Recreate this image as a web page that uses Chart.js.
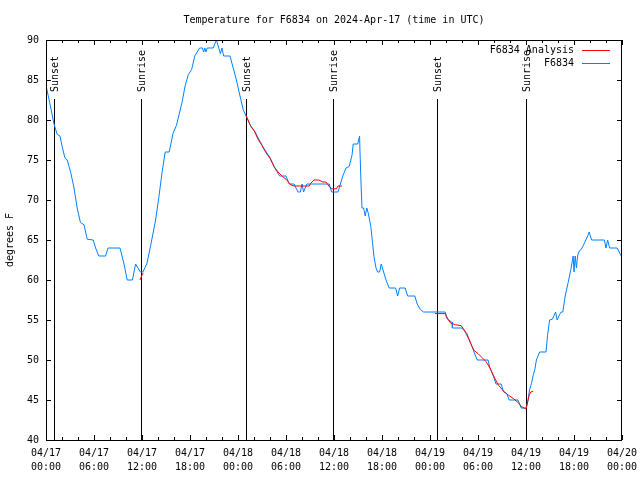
<!DOCTYPE html>
<html>
<head>
<meta charset="utf-8">
<script src="https://cdn.jsdelivr.net/npm/chart.js"></script>
<style>
  body { margin: 0; background: #fff; }
  canvas { display: block; }
</style>
</head>
<body>
<canvas id="tempChart" width="640" height="480"></canvas>
<script>
// hours since 04/17 00:00 UTC
const obsHours = [0, 0.5, 1.0, 1.4, 1.75, 1.95, 2.35, 2.65, 3.1, 3.5, 3.9, 4.3, 4.75, 5.15, 5.9, 6.2, 6.6, 7.45, 7.75, 9.25,
    9.75, 10.15, 10.8, 11.2, 11.8, 12.1, 12.6, 13.1, 13.7, 14.1, 14.5, 14.9, 15.4, 15.9, 16.3, 17.0, 17.4, 17.8, 18.2, 18.6,
    19.2, 19.55, 19.7, 19.85, 20.0, 20.15, 20.9, 21.3, 21.6, 21.8, 22.0, 22.2, 23.0, 23.4, 23.8, 24.25, 24.65, 25.1, 25.7, 26.1,
    26.5, 27.2, 28.0, 28.6, 29.2, 30.0, 30.4, 31.0, 31.5, 31.8, 32.0, 32.2, 32.6, 35.4, 35.7, 36.5, 36.8, 37.1, 37.5, 37.9,
    38.25, 38.4, 38.96, 39.2, 39.25, 39.4, 39.5, 39.7, 39.9, 40.1, 40.3, 40.6, 40.8, 41.0, 41.25, 41.45, 41.7, 41.9, 42.2, 42.5,
    42.9, 43.7, 43.96, 44.2, 44.9, 45.2, 46.1, 46.4, 46.8, 47.2, 49.9, 50.1, 50.75, 50.8, 52.0, 52.4, 52.8, 53.25, 53.5, 53.9,
    55.25, 55.5, 55.95, 56.25, 56.9, 57.2, 57.6, 57.9, 59.0, 59.4, 60.05, 60.25, 60.45, 60.7, 60.9, 61.1, 61.3, 61.7, 62.5, 62.7,
    62.95, 63.3, 63.7, 63.9, 64.2, 64.4, 64.6, 64.9, 65.25, 65.6, 65.9, 66.0, 66.15, 66.3, 66.45, 66.6, 67.0, 67.3, 67.75, 67.9,
    68.2, 69.8, 70.0, 70.2, 70.45, 71.4, 71.9, 72];
const obsTemps = [84.3, 82, 79.5, 78.2, 78, 77, 75.3, 75, 73.4, 71.5, 69, 67.2, 66.9, 65.1, 65, 64, 63, 63, 64, 64,
    62, 60, 60, 62, 61, 61, 62, 64.4, 67.5, 70.3, 73.4, 76, 76, 78.4, 79.3, 82.2, 84.3, 85.7, 86.3, 88,
    89, 89, 88.5, 89, 88.5, 89, 89, 90, 89, 88.3, 89, 88, 88, 86.5, 85, 83, 81.3, 80.3, 79, 78.6,
    77.8, 76.5, 75.3, 74, 73, 73, 72, 72, 71, 71, 72, 71, 72, 72, 71, 71, 72, 73, 74, 74.2,
    75.6, 77, 77, 78, 76, 71.5, 69, 69, 68, 69, 68.3, 66.7, 64.8, 62.9, 61.5, 61, 61, 62, 61, 60,
    59, 59, 58, 59, 59, 58, 58, 57, 56.3, 56, 56, 55.2, 54.7, 54, 54, 53.5, 52.7, 51.7, 51, 50,
    50, 49, 47.9, 47, 47, 46, 45.8, 45, 45, 44, 44, 45, 46.3, 47.1, 48.1, 48.8, 50, 51, 51, 53.1,
    55, 55.1, 56, 55, 55.7, 56, 56, 58, 59.6, 61.3, 63, 61, 63, 61.5, 63, 63.5, 64, 64.6, 65.6, 66,
    65, 65, 64, 65, 64, 64, 63, 63];

// analysis fit, null breaks the line
const fitHours = [11.75, 11.95, 12.15, 12.2,
    25.0, 25.5, 26.0, 26.5, 27.0, 27.5, 28.0, 28.5, 29.0, 29.6, 30.0, 30.6, 31.0, 32.0, 32.9, 33.1, 33.5, 34.1, 34.6, 35.0,
    35.4, 35.7, 36.3, 36.5, 37.0, 37.1,
    48.6, 49.9, 50.3, 50.6, 51.2, 51.9, 52.1, 52.6, 53.25, 53.5, 54.0, 54.5, 55.0, 55.5, 56.2, 56.6, 57.2, 57.8, 58.4, 59.1,
    59.4, 59.95, 60.1, 60.4, 60.6, 60.9];
const fitTemps = [60.0, 60.5, 60.9, null,
    80.6, 79.4, 78.7, 77.6, 76.8, 75.9, 75.2, 74.2, 73.5, 72.9, 72.6, 71.9, 71.75, 71.75, 71.75, 72.1, 72.5, 72.5, 72.25, 72.25,
    71.7, 71.4, 71.4, 71.75, 71.75, null,
    55.8, 55.8, 55, 54.6, 54.4, 54.3, 54, 53.3, 51.7, 51.2, 50.8, 50.3, 49.8, 49, 47.5, 46.8, 46.1, 45.6, 45.2, 44.6,
    44.2, 43.9, 44.3, 45.6, 46, 46.1];

const sunHours = [1.0, 11.9, 25.0, 35.9, 48.9, 59.95];
const sunLabels = ['Sunset', 'Sunrise', 'Sunset', 'Sunrise', 'Sunset', 'Sunrise'];

const xTickHours = [0, 6, 12, 18, 24, 30, 36, 42, 48, 54, 60, 66, 72];
const xTickLabels = [
    ['04/17', '00:00'], ['04/17', '06:00'], ['04/17', '12:00'], ['04/17', '18:00'],
    ['04/18', '00:00'], ['04/18', '06:00'], ['04/18', '12:00'], ['04/18', '18:00'],
    ['04/19', '00:00'], ['04/19', '06:00'], ['04/19', '12:00'], ['04/19', '18:00'],
    ['04/20', '00:00']
];

const MONO = '"DejaVu Sans Mono", "Liberation Mono", monospace';
const BLUE = '#0080ff';
const RED = '#ff0000';

function toPoints(xs, ys) {
    return xs.map((x, i) => ({ x: x, y: ys[i] }));
}

// frame, inward ticks, sun markers, title and legend in gnuplot style
const gnuplotBits = {
    id: 'gnuplotBits',
    beforeDatasetsDraw(chart) {
        const ctx = chart.ctx;
        const a = chart.chartArea;
        const xs = chart.scales.x;
        ctx.save();
        ctx.strokeStyle = '#000';
        ctx.lineWidth = 1;
        ctx.fillStyle = '#000';
        ctx.font = '10px ' + MONO;
        sunHours.forEach((h, i) => {
            const px = Math.round(xs.getPixelForValue(h)) + 0.5;
            ctx.beginPath();
            ctx.moveTo(px, a.bottom);
            ctx.lineTo(px, a.top + 59);
            ctx.stroke();
            ctx.save();
            ctx.translate(px + 1, a.top + 52);
            ctx.rotate(-Math.PI / 2);
            ctx.textAlign = 'left';
            ctx.textBaseline = 'middle';
            ctx.fillText(sunLabels[i], 0, 0);
            ctx.restore();
        });
        ctx.restore();
    },
    afterDatasetsDraw(chart) {
        const ctx = chart.ctx;
        const a = chart.chartArea;
        const xs = chart.scales.x;
        const ys = chart.scales.y;
        ctx.save();
        ctx.strokeStyle = '#000';
        ctx.lineWidth = 1;
        ctx.beginPath();
        xs.ticks.forEach(t => {
            const px = Math.round(xs.getPixelForValue(t.value)) + 0.5;
            const len = t.value % 6 === 0 ? 5 : 3;
            ctx.moveTo(px, a.bottom);
            ctx.lineTo(px, a.bottom - len);
            ctx.moveTo(px, a.top);
            ctx.lineTo(px, a.top + len);
        });
        ys.ticks.forEach(t => {
            const py = Math.round(ys.getPixelForValue(t.value)) + 0.5;
            ctx.moveTo(a.left, py);
            ctx.lineTo(a.left + 5, py);
            ctx.moveTo(a.right, py);
            ctx.lineTo(a.right - 5, py);
        });
        ctx.stroke();
        ctx.strokeRect(a.left + 0.5, a.top + 0.5, a.right - a.left - 1, a.bottom - a.top);

        ctx.fillStyle = '#000';
        ctx.font = '10px ' + MONO;
        ctx.textBaseline = 'middle';
        ctx.textAlign = 'center';
        ctx.fillText('Temperature for F6834 on 2024-Apr-17 (time in UTC)', (a.left + a.right) / 2, 20);

        const legend = [['F6834 Analysis', RED], ['F6834', BLUE]];
        legend.forEach((item, i) => {
            const y = a.top + 10 + i * 13;
            ctx.textAlign = 'right';
            ctx.fillStyle = '#000';
            ctx.fillText(item[0], a.right - 48, y);
            ctx.strokeStyle = item[1];
            ctx.beginPath();
            ctx.moveTo(a.right - 40, Math.round(y) + 0.5);
            ctx.lineTo(a.right - 12, Math.round(y) + 0.5);
            ctx.stroke();
        });
        ctx.restore();
    }
};

const ctx = document.getElementById('tempChart').getContext('2d');
new Chart(ctx, {
    type: 'line',
    data: {
        datasets: [{
            label: 'F6834 Analysis',
            data: toPoints(fitHours, fitTemps),
            borderColor: RED,
            borderWidth: 1,
            pointRadius: 0,
            spanGaps: false,
            tension: 0
        }, {
            label: 'F6834',
            data: toPoints(obsHours, obsTemps),
            borderColor: BLUE,
            borderWidth: 1,
            pointRadius: 0,
            tension: 0
        }]
    },
    options: {
        responsive: false,
        animation: false,
        devicePixelRatio: 1,
        layout: {
            padding: { top: 40, right: 18, left: 0, bottom: 0 }
        },
        plugins: {
            legend: { display: false },
            title: { display: false },
            tooltip: { enabled: false }
        },
        scales: {
            x: {
                type: 'linear',
                min: 0,
                max: 72,
                grid: { display: false, drawTicks: false },
                border: { display: false },
                ticks: {
                    stepSize: 2,
                    autoSkip: false,
                    maxRotation: 0,
                    padding: 6,
                    color: '#000',
                    font: { family: MONO, size: 10, lineHeight: 1.4 },
                    callback: (v) => {
                        const i = xTickHours.indexOf(v);
                        return i >= 0 ? xTickLabels[i] : '';
                    }
                },
                afterFit: (s) => {
                    s.height = 40;
                    s.paddingLeft = 0;
                    s.paddingRight = 0;
                }
            },
            y: {
                min: 40,
                max: 90,
                grid: { display: false, drawTicks: false },
                border: { display: false },
                ticks: {
                    stepSize: 5,
                    padding: 7,
                    color: '#000',
                    font: { family: MONO, size: 10 }
                },
                title: {
                    display: true,
                    text: 'degrees F',
                    color: '#000',
                    font: { family: MONO, size: 10 }
                },
                afterFit: (s) => {
                    s.width = 46;
                    s.paddingTop = 0;
                    s.paddingBottom = 0;
                }
            }
        }
    },
    plugins: [gnuplotBits]
});
</script>
</body>
</html>
